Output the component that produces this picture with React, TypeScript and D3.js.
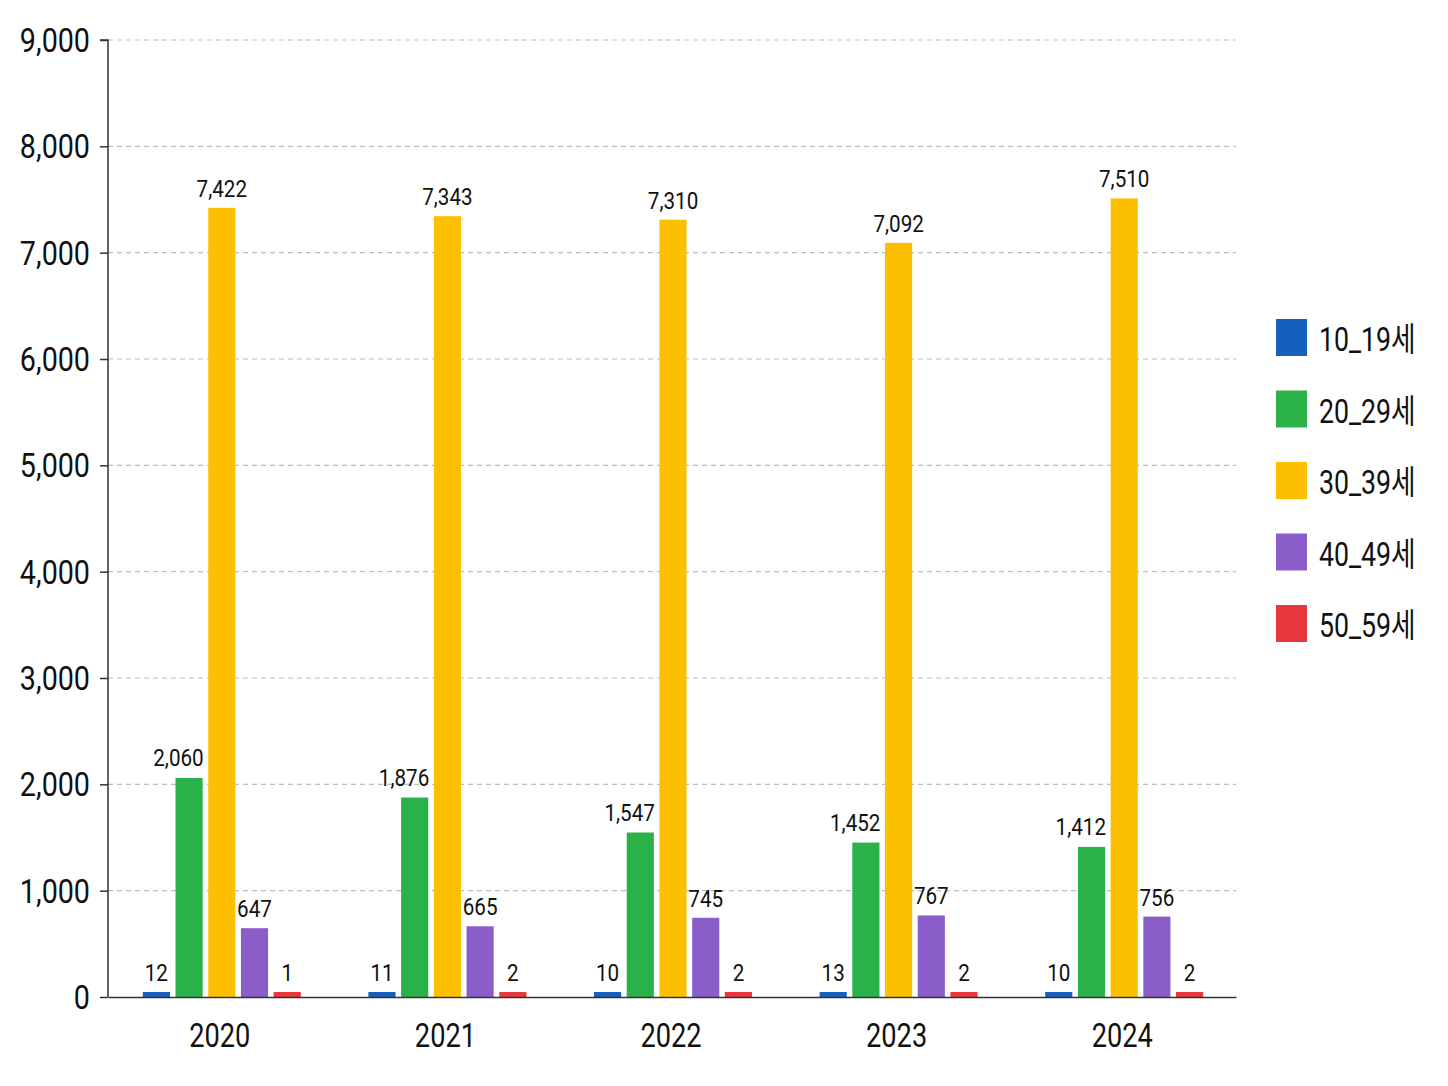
import React, { useRef, useEffect } from 'react';
import * as d3 from 'd3';

const years = ['2020', '2021', '2022', '2023', '2024'];
const ageGroups = ['10_19세', '20_29세', '30_39세', '40_49세', '50_59세'];
const groupColors = ['#1560bd', '#2bb14a', '#fdc000', '#8a5ec9', '#e8383b'];
const values10s = [12, 11, 10, 13, 10];
const values20s = [2060, 1876, 1547, 1452, 1412];
const values30s = [7422, 7343, 7310, 7092, 7510];
const values40s = [647, 665, 745, 767, 756];
const values50s = [1, 2, 2, 2, 2];
const yTicks = [0, 1000, 2000, 3000, 4000, 5000, 6000, 7000, 8000, 9000];

const series = [values10s, values20s, values30s, values40s, values50s];

const W = 1448;
const H = 1086;
const FONT = "Roboto, 'Noto Sans CJK KR', sans-serif";
const fmt = d3.format(',');

const App: React.FC = () => {
  const svgRef = useRef<SVGSVGElement>(null);

  useEffect(() => {
    const svg = d3.select(svgRef.current);
    svg.selectAll('*').remove();

    const left = 108;
    const right = 1236;
    const top = 40;
    const bottom = 997;
    const inner = 158;

    const x0 = d3.scaleBand().domain(years).range([left, right]);
    const x1 = d3.scaleBand().domain(ageGroups).range([0, inner]).paddingInner(0.17);
    const groupOffset = (x0.bandwidth() - inner) / 2 + 1;
    const y = d3.scaleLinear().domain([0, 9000]).range([bottom, top]);

    // narrow text: Roboto squeezed horizontally
    const label = (
      parent: d3.Selection<any, unknown, null, undefined>,
      x: number,
      yy: number,
      text: string,
      size: number,
      sx: number,
      anchor: string
    ) => {
      parent
        .append('text')
        .attr('transform', `translate(${x},${yy}) scale(${sx},1)`)
        .attr('text-anchor', anchor)
        .attr('font-family', FONT)
        .attr('font-size', size)
        .attr('fill', '#111')
        .text(text);
    };

    // Grid lines
    svg
      .append('g')
      .selectAll('line')
      .data(yTicks.filter(t => t > 0))
      .enter()
      .append('line')
      .attr('x1', left)
      .attr('x2', right)
      .attr('y1', d => y(d))
      .attr('y2', d => y(d))
      .attr('stroke', '#bdbdbd')
      .attr('stroke-width', 1.2)
      .attr('stroke-dasharray', '5,4');

    // Y axis
    const yAxis = svg
      .append('g')
      .attr('transform', `translate(${left},0)`)
      .call(d3.axisLeft(y).tickValues(yTicks).tickSize(8).tickFormat(() => ''));
    yAxis.select('.domain').attr('stroke', '#333').attr('stroke-width', 1.5).attr('d', `M-8,${top}H0V${bottom}`);
    yAxis.selectAll('.tick line').attr('stroke', '#333').attr('stroke-width', 1.5);
    const yLabels = svg.append('g');
    yTicks.forEach(t => label(yLabels, 90, y(t) + 12, fmt(t), 33, 0.87, 'end'));

    // Bars
    const bars = svg.append('g');
    const values = svg.append('g');
    years.forEach((year, yi) => {
      const gx = (x0(year) as number) + groupOffset;
      ageGroups.forEach((age, ai) => {
        const v = series[ai][yi];
        const h = Math.max(bottom - y(v), 5);
        const bx = gx + (x1(age) as number);
        const bw = x1.bandwidth();
        bars
          .append('rect')
          .attr('x', bx)
          .attr('y', bottom - h)
          .attr('width', bw)
          .attr('height', h)
          .attr('fill', groupColors[ai]);
        // 20s labels are pushed left so they clear the taller 30s bar
        if (ai === 1) label(values, bx + bw + 1, bottom - h - 12, fmt(v), 24, 0.86, 'end');
        else label(values, bx + bw / 2, bottom - h - 11, fmt(v), 24, 0.86, 'middle');
      });
    });

    // X axis
    const xAxis = svg
      .append('g')
      .attr('transform', `translate(0,${bottom})`)
      .call(d3.axisBottom(x0).tickSize(0).tickFormat(() => ''));
    xAxis.select('.domain').attr('stroke', '#333').attr('stroke-width', 1.5);
    const xLabels = svg.append('g');
    years.forEach(yr => label(xLabels, (x0(yr) as number) + x0.bandwidth() / 2 - 1, 1047, yr, 34, 0.8, 'middle'));

    // Legend
    const legend = svg.append('g').attr('transform', 'translate(1276,319)');
    ageGroups.forEach((age, i) => {
      legend
        .append('rect')
        .attr('x', 0)
        .attr('y', i * 71.5)
        .attr('width', 31)
        .attr('height', 37)
        .attr('fill', groupColors[i]);
      label(legend, 43, i * 71.5 + 32, age, 33, 0.81, 'start');
    });
  }, []);

  return (
    <div>
      <svg
        ref={svgRef}
        width={W}
        height={H}
        style={{ position: 'absolute', left: 0, top: 0, background: '#fff' }}
      />
    </div>
  );
};

export default App;
